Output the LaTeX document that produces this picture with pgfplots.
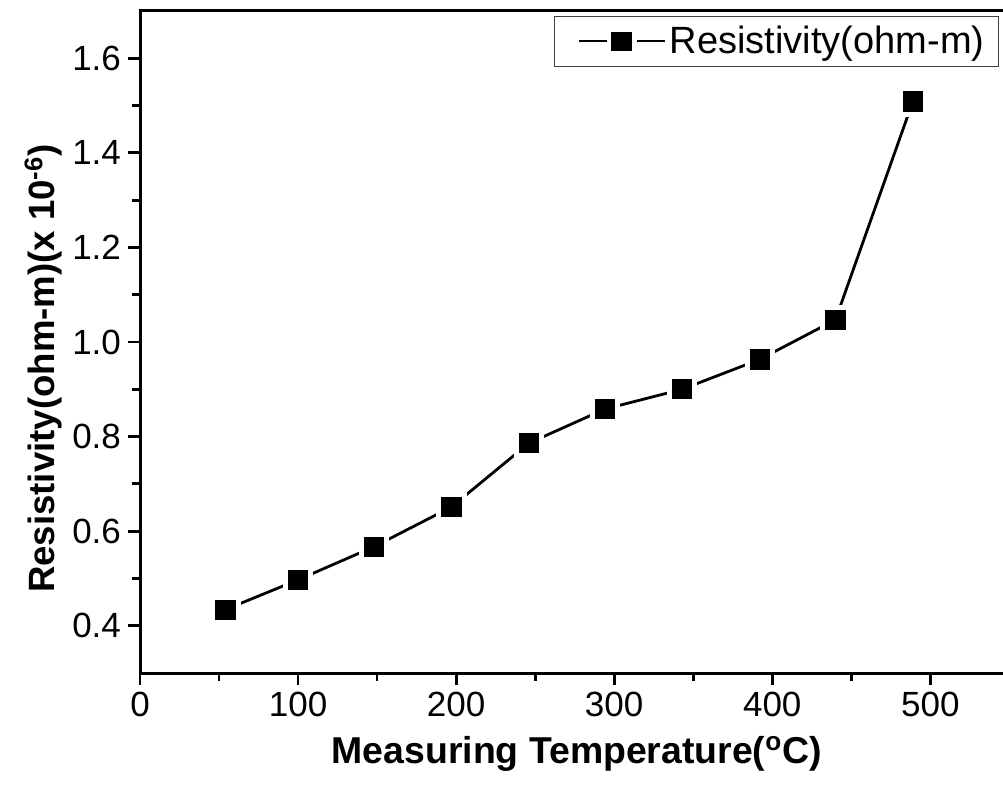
\documentclass[border=0pt]{standalone}
\usepackage{pgfplots}
\pgfplotsset{compat=1.18}
\usepackage{fontspec}
\setmainfont{Liberation Sans}

\pgfplotstableread{
T    rho
54   0.434
100  0.497
148  0.567
197  0.651
246  0.786
294  0.858
343  0.900
392  0.963
440  1.047
489  1.509
}\resdata

\begin{document}
\begin{tikzpicture}

    \begin{axis}[
            width=434.66pt,
            height=331pt,
            scale only axis,
            xmin=0, xmax=550,
            ymin=0.3, ymax=1.7,
            axis line style={line width=1.5pt},
            xtick pos=bottom,
            ytick pos=left,
            xtick={0,100,200,300,400,500},
            xticklabels={0,100,200,300,400,500},
            ytick={0.4,0.6,0.8,1.0,1.2,1.4,1.6},
            yticklabels={0.4,0.6,0.8,1.0,1.2,1.4,1.6},
            minor x tick num=1,
            minor y tick num=1,
            tick align=outside,
            major tick length=6pt,
            minor tick length=4pt,
            every major tick/.append style={line width=1.4pt, black},
            every minor tick/.append style={line width=1.4pt, black},
            tick label style={font=\fontsize{17.5}{20}\selectfont},
            xlabel={\textbf{Measuring Temperature(\textsuperscript{o}C)}},
            ylabel={\textbf{Resistivity(ohm-m)(x 10\textsuperscript{-6})}},
            every axis x label/.style={at={(axis description cs:0.5025,-0.122)}, anchor=center,
                font=\fontsize{18.7}{22}\selectfont},
            every axis y label/.style={at={(axis description cs:-0.111,0.46)}, anchor=center, rotate=90,
                font=\fontsize{18.3}{22}\selectfont},
            legend style={
                at={(axis cs:543.5,1.69)},
                anchor=north east,
                draw=black!75,
                line width=0.5pt,
                font=\fontsize{19}{22}\selectfont,
                inner xsep=5pt,
                inner ysep=3pt,
                cells={anchor=west}
            }
        ]

        % connecting line (markers cut gaps into it)
        \addplot[line width=1.4pt, black, no marks, forget plot] table[x=T, y=rho] {\resdata};

        % white halo round each marker
        \addplot[only marks, mark=square*, mark size=7.3pt, color=white, forget plot]
            table[x=T, y=rho] {\resdata};

        \addplot[
            only marks,
            mark=square*,
            mark size=4.8pt,
            color=black,
            legend image code/.code={
                \path (-7pt,0pt);
                \draw[line width=1pt] (0pt,0pt) -- (14pt,0pt);
                \fill (16.5pt,-4.5pt) rectangle (26.5pt,4.5pt);
                \draw[line width=1pt] (29pt,0pt) -- (43pt,0pt);
            }
        ] table[x=T, y=rho] {\resdata};
        \addlegendentry{Resistivity(ohm-m)}

        % major ticks, drawn again so that they show for sure
        \pgfplotsinvokeforeach{0,100,200,300,400,500}{
            \draw[line width=1.4pt] (axis cs:#1,0.3) -- ++(0pt,-6pt);
        }
        \pgfplotsinvokeforeach{0.4,0.6,0.8,1.0,1.2,1.4,1.6}{
            \draw[line width=1.4pt] (axis cs:0,#1) -- ++(-6pt,0pt);
        }

        \coordinate (sw) at (axis cs:0,0.3);
        \coordinate (ne) at (axis cs:546,1.7);
    \end{axis}

    \pgfresetboundingbox
    \path[use as bounding box] ([xshift=-70pt,yshift=-56pt]sw) rectangle ([yshift=5.5pt]ne);

\end{tikzpicture}
\end{document}
